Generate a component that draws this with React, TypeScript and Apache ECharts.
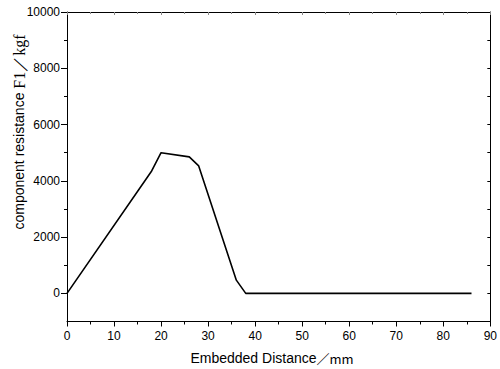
import React, { useEffect, useRef } from "react";
import * as echarts from "echarts";

const distance = [0, 18, 20, 26, 28, 36, 38, 86];
const resistance = [0, 4350, 5000, 4850, 4530, 470, 0, 0];
const yMajorTicks = [0, 2000, 4000, 6000, 8000, 10000];
const yMinorTicks = [1000, 3000, 5000, 7000, 9000];
const yAllTicks = [0, 1000, 2000, 3000, 4000, 5000, 6000, 7000, 8000, 9000];
const xLabel = "Embedded Distance";
const xUnit = "／mm";
const yLabel = "component resistance ";
const yUnit = "F1／kgf";

export default function App() {
  const ref = useRef<HTMLDivElement>(null);
  useEffect(() => {
    if (!ref.current) return;
    const chart = echarts.init(ref.current, null, { renderer: "svg" });
    const line = { lineStyle: { color: "#000", width: 1 } };
    const grid = { left: 67, top: 12, right: 4, bottom: 47.5 };
    const xScale = { type: "value" as const, min: 0, max: 90, interval: 10 };
    const yScale = { type: "value" as const, min: -1000, max: 10000 };
    chart.setOption({
      animation: false,
      grid,
      xAxis: [
        {
          ...xScale,
          position: "bottom",
          axisLine: { show: true, onZero: false, ...line },
          axisTick: { show: true, inside: false, length: 5, ...line },
          minorTick: { show: true, splitNumber: 2, length: 3, ...line },
          axisLabel: {
            color: "#000",
            fontFamily: "Arial, Liberation Sans",
            fontSize: 12,
            margin: 8,
            showMaxLabel: true,
            hideOverlap: false,
          },
          splitLine: { show: false },
        },
        {
          ...xScale,
          position: "top",
          axisLine: { show: true, onZero: false, ...line },
          axisTick: { show: true, inside: true, length: 3, lineStyle: { color: "#888", width: 1 } },
          minorTick: { show: true, splitNumber: 2, length: 2, lineStyle: { color: "#888", width: 1 } },
          axisLabel: { show: false },
          splitLine: { show: false },
        },
      ],
      yAxis: [
        {
          ...yScale,
          position: "left",
          axisLine: { show: true, onZero: false, ...line },
          axisTick: { show: true, inside: false, length: 6, customValues: yMajorTicks, ...line },
          axisLabel: {
            color: "#000",
            fontFamily: "Arial, Liberation Sans",
            fontSize: 12,
            margin: 7,
            customValues: yMajorTicks,
            formatter: (v: number) => String(v),
          },
          splitLine: { show: false },
        },
        {
          ...yScale,
          position: "left",
          axisLine: { show: false },
          axisTick: { show: true, inside: false, length: 3, customValues: yMinorTicks, ...line },
          axisLabel: { show: false },
          splitLine: { show: false },
        },
        {
          ...yScale,
          position: "right",
          axisLine: { show: true, onZero: false, ...line },
          axisTick: { show: true, inside: true, length: 3, customValues: yAllTicks, ...line },
          axisLabel: { show: false },
          splitLine: { show: false },
        },
      ],
      graphic: [
        {
          type: "text",
          x: 272,
          y: 358,
          style: {
            text: `{a|${xLabel}}{b|${xUnit}}`,
            align: "center",
            verticalAlign: "middle",
            rich: {
              a: { fontFamily: "Arial, Liberation Sans", fontSize: 14, fill: "#000" },
              b: { fontFamily: "Noto Sans CJK SC, Liberation Serif", fontSize: 13, fill: "#000" },
            },
          },
        },
        {
          type: "text",
          x: 19,
          y: 132,
          rotation: Math.PI / 2,
          style: {
            text: `{a|${yLabel}}{b|${yUnit}}`,
            align: "center",
            verticalAlign: "middle",
            rich: {
              a: { fontFamily: "Arial, Liberation Sans", fontSize: 14, fill: "#000" },
              b: { fontFamily: "Liberation Serif, DejaVu Serif", fontSize: 16, fill: "#000" },
            },
          },
        },
      ],
      series: [
        {
          type: "line",
          xAxisIndex: 0,
          yAxisIndex: 0,
          data: distance.map((d, i) => [d, resistance[i]]),
          symbol: "none",
          lineStyle: { color: "#000", width: 1.6 },
        },
      ],
    });
    return () => chart.dispose();
  }, []);
  return (
    <div
      ref={ref}
      style={{ position: "absolute", left: 0, top: 0, width: 500, height: 369 }}
    />
  );
}
